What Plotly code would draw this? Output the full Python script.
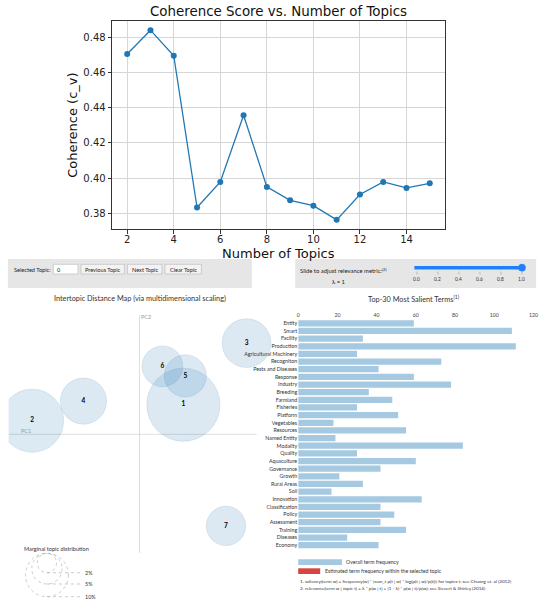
import plotly.graph_objects as go

W, H = 550, 605
def px(x): return x / W
def py(y): return 1 - y / H

# ---------------- data ----------------
num_topics = [2, 3, 4, 5, 6, 7, 8, 9, 10, 11, 12, 13, 14, 15]
coherence = [0.4705, 0.4840, 0.4695, 0.3833, 0.3978, 0.4357, 0.3950,
             0.3874, 0.3843, 0.3763, 0.3907, 0.3978, 0.3944, 0.3970]
coh_xticks = [2, 4, 6, 8, 10, 12, 14]
coh_yticks = [0.38, 0.40, 0.42, 0.44, 0.46, 0.48]

topic_ids = ["1", "2", "3", "4", "5", "6", "7"]
topic_pc1 = [0.111, -0.272, 0.271, -0.142, 0.116, 0.058, 0.219]
topic_pc2 = [0.074, 0.034, 0.228, 0.083, 0.146, 0.170, -0.229]
topic_share = [28.4, 21.1, 12.6, 11.3, 9.4, 8.8, 8.2]
legend_shares = [2, 5, 10]
legend_labels = ["2%", "5%", "10%"]

terms = ["Entity", "Smart", "Facility", "Production", "Agricultural Machinery",
         "Recogniton", "Pests and Diseases", "Response", "Industry", "Breeding",
         "Farmland", "Fisheries", "Platform", "Vegetables", "Resources",
         "Named Entity", "Modality", "Quality", "Aquaculture", "Governance",
         "Growth", "Rural Areas", "Soil", "Innovation", "Classification",
         "Policy", "Assessment", "Training", "Diseases", "Economy"]
term_freq = [59, 109, 33, 111, 30, 73, 41, 59, 78, 36,
             48, 30, 51, 18, 55, 19, 84, 30, 60, 42,
             21, 33, 17, 63, 42, 49, 42, 55, 25, 41]
bar_xticks = [0, 20, 40, 60, 80, 100, 120]
lambda_ticks = [0.0, 0.2, 0.4, 0.6, 0.8, 1.0]
lambda_value = 1.0

# ---------------- figure ----------------
fig = go.Figure()

# top: coherence line chart (matplotlib look)
span = max(coherence) - min(coherence)
fig.add_trace(go.Scatter(
    x=num_topics, y=coherence, mode="lines+markers",
    line=dict(color="#1f77b4", width=1.3),
    marker=dict(color="#1f77b4", size=6),
    xaxis="x", yaxis="y", showlegend=False, hoverinfo="skip"))

# bottom-left: intertopic distance map
max_d_10 = 43.4  # px diameter of a 10% bubble
sizeref = 2 * 10 / max_d_10 ** 2
fig.add_trace(go.Scatter(
    x=topic_pc1, y=topic_pc2, mode="markers+text", text=topic_ids,
    textposition="middle center",
    textfont=dict(family="Lato", size=6.5, color="#000", weight="bold"),
    marker=dict(size=topic_share, sizemode="area", sizeref=sizeref,
                color="rgba(31,119,180,0.22)",
                line=dict(color="rgba(90,130,170,0.35)", width=0.7)),
    xaxis="x2", yaxis="y2", showlegend=False, hoverinfo="skip", cliponaxis=True))

# bottom-right: salient terms bars
fig.add_trace(go.Bar(
    x=term_freq, y=terms, orientation="h",
    marker=dict(color="rgb(166,201,226)", line=dict(width=0)),
    xaxis="x3", yaxis="y3", showlegend=False, hoverinfo="skip"))

# pixel geometry helpers
ppu = 400.0          # px per PC unit
ox, oy = 139.3, 434.3  # origin of PC axes in px
def pcx(p): return (p - ox) / ppu
def pcy(p): return (oy - p) / ppu

shapes = []
ann = []

def text(t, x, y, size, color="#333", xanchor="center", family="Lato", **kw):
    ann.append(dict(text=t, x=px(x), y=py(y), xref="paper", yref="paper",
                    xanchor=xanchor, yanchor="middle", showarrow=False,
                    font=dict(size=size, color=color, family=family), **kw))

def rect(x0, y0, x1, y1, fill, line="rgba(0,0,0,0)", lw=0):
    shapes.append(dict(type="rect", xref="paper", yref="paper",
                       x0=px(x0), x1=px(x1), y0=py(y1), y1=py(y0),
                       fillcolor=fill, line=dict(color=line, width=lw), layer="below"))

# top chart texts
text("Coherence Score vs. Number of Topics", 280, 11.7, 13.4, "#111", family="DejaVu Sans")
text("Number of Topics", 280, 253, 13, "#111", family="DejaVu Sans")
text("Coherence (c_v)", 71.7, 125, 13, "#111", family="DejaVu Sans", textangle=-90)

# control panels
rect(6, 259, 253, 288, "#e6e6e6")
rect(297, 259, 541, 288, "#e6e6e6")
text("Selected Topic:", 10, 269.2, 5.6, "#222", xanchor="left")
rect(52, 264.3, 77, 274, "#ffffff", "#b5b5b5", 0.6)
text("0", 54, 269.2, 5.6, "#222", xanchor="left")
for (x0, x1, lab) in [(80, 124, "Previous Topic"), (127, 162, "Next Topic"), (165, 202, "Clear Topic")]:
    rect(x0, 264.3, x1, 274, "#f3f3f3", "#b5b5b5", 0.6)
    text(lab, (x0 + x1) / 2, 269.2, 5.6, "#222")

text("Slide to adjust relevance metric:<sup>(2)</sup>", 300, 270.5, 5.9, "#222", xanchor="left")
text("λ = %g" % lambda_value, 340.7, 281, 5.9, "#222")
sx0, sx1, sy = 420.3, 526.7, 267.7
shapes.append(dict(type="line", xref="paper", yref="paper",
                   x0=px(sx0 - 2.6), x1=px(sx0 + (sx1 - sx0) * lambda_value), y0=py(sy), y1=py(sy),
                   line=dict(color="#1e80ff", width=3.6)))
kx = sx0 + (sx1 - sx0) * lambda_value
shapes.append(dict(type="circle", xref="paper", yref="paper",
                   x0=px(kx - 3.6), x1=px(kx + 3.6), y0=py(sy + 3.6), y1=py(sy - 3.6),
                   fillcolor="#1e80ff", line=dict(color="#1e80ff", width=0.5)))
for t in lambda_ticks:
    tx = sx0 + (sx1 - sx0) * t
    shapes.append(dict(type="line", xref="paper", yref="paper", x0=px(tx), x1=px(tx),
                       y0=py(271.5), y1=py(274.5), line=dict(color="#999", width=0.6)))
    text("%.1f" % t, tx, 278.5, 4.8, "#333")

# section titles
text("Intertopic Distance Map (via multidimensional scaling)", 140, 298.5, 7.3, "#333")
text("Top-30 Most Salient Terms<sup>(1)</sup>", 417, 298.5, 7.3, "#333")

# PC axes lines
xr = [pcx(6.7), pcx(290)]
yr = [pcy(556), pcy(312)]
shapes.append(dict(type="line", xref="x2", yref="y2", x0=xr[0], x1=pcx(258), y0=0, y1=0,
                   line=dict(color="#d0d0d0", width=0.7), layer="below"))
shapes.append(dict(type="line", xref="x2", yref="y2", x0=0, x1=0, y0=pcy(553), y1=pcy(315),
                   line=dict(color="#d0d0d0", width=0.7), layer="below"))
ann.append(dict(text="PC1", x=pcx(24.5), y=pcy(430.5), xref="x2", yref="y2", showarrow=False,
                font=dict(size=5.5, color="#999", family="Lato")))
ann.append(dict(text="PC2", x=pcx(146), y=pcy(316.7), xref="x2", yref="y2", showarrow=False,
                font=dict(size=5.5, color="#999", family="Lato")))

# marginal topic distribution legend
text("Marginal topic distribution", 55, 548, 5.6, "#333")
cx, top = 45.5, 553.3
for s, lab in zip(legend_shares, legend_labels):
    r = 0.5 * (2 * s / sizeref) ** 0.5
    shapes.append(dict(type="circle", xref="paper", yref="paper",
                       x0=px(cx - r), x1=px(cx + r), y0=py(top + 2 * r), y1=py(top),
                       line=dict(color="#aaaaaa", width=0.6, dash="dot")))
    shapes.append(dict(type="line", xref="paper", yref="paper",
                       x0=px(cx), x1=px(80), y0=py(top + 2 * r), y1=py(top + 2 * r),
                       line=dict(color="#aaaaaa", width=0.6, dash="dot")))
    text(lab, 82.5, top + 2 * r, 5.4, "#333", xanchor="left")

# bar legend and footnotes
rect(300, 559.3, 344.3, 565, "rgb(166,201,226)")
text("Overall term frequency", 346.7, 562.2, 5.2, "#333", xanchor="left")
rect(300, 568.3, 322.3, 574, "rgb(214,69,65)")
text("Estimated term frequency within the selected topic", 324.7, 571.2, 5.2, "#333", xanchor="left")
text("1. saliency(term w) = frequency(w) * [sum_t p(t | w) * log(p(t | w)/p(t))] for topics t; see Chuang et. al (2012)",
     300, 580.5, 4.6, "#333", xanchor="left")
text("2. relevance(term w | topic t) = λ * p(w | t) + (1 - λ) * p(w | t)/p(w); see Sievert & Shirley (2014)",
     300, 587.5, 4.6, "#333", xanchor="left")

fig.update_layout(
    width=W, height=H, margin=dict(l=0, r=0, t=0, b=0),
    paper_bgcolor="white", plot_bgcolor="rgba(0,0,0,0)",
    bargap=0.18,
    xaxis=dict(domain=[px(111.5), px(448.6)], range=[1.35, 15.65],
               tickvals=coh_xticks, ticks="outside", ticklen=3.5, tickcolor="#333",
               ticklabelstandoff=-3,
               showline=True, mirror=True, linecolor="#333", linewidth=0.9,
               showgrid=True, gridcolor="#d6d6d6", gridwidth=0.8, zeroline=False,
               tickfont=dict(family="DejaVu Sans", size=10, color="#222")),
    yaxis=dict(domain=[py(229.3), py(20.7)],
               range=[min(coherence) - 0.05 * span, max(coherence) + 0.05 * span],
               tickvals=coh_yticks, tickformat=".2f", ticks="outside", ticklen=3.5, tickcolor="#333",
               showline=True, mirror=True, linecolor="#333", linewidth=0.9,
               showgrid=True, gridcolor="#d6d6d6", gridwidth=0.8, zeroline=False,
               tickfont=dict(family="DejaVu Sans", size=10, color="#222")),
    xaxis2=dict(domain=[px(6.7), px(290)], range=xr, visible=False, anchor="y2"),
    yaxis2=dict(domain=[py(556), py(312)], range=yr, visible=False, anchor="x2"),
    xaxis3=dict(domain=[px(300), px(538.3)], range=[0, 120], side="top", anchor="y3",
                tickvals=bar_xticks, ticks="", showgrid=False, showline=False, zeroline=False,
                tickfont=dict(family="Lato", size=5.2, color="#444")),
    yaxis3=dict(domain=[py(549), py(319.5)], range=[len(terms) - 0.5, -0.5], type="category",
                anchor="x3", ticks="", showgrid=False, showline=False,
                tickfont=dict(family="Lato", size=5.3, color="#333")),
    shapes=shapes, annotations=ann,
)

fig.write_html("out.html", config={"displayModeBar": False},
               post_script="document.body.style.margin='0';document.body.style.padding='0';")
